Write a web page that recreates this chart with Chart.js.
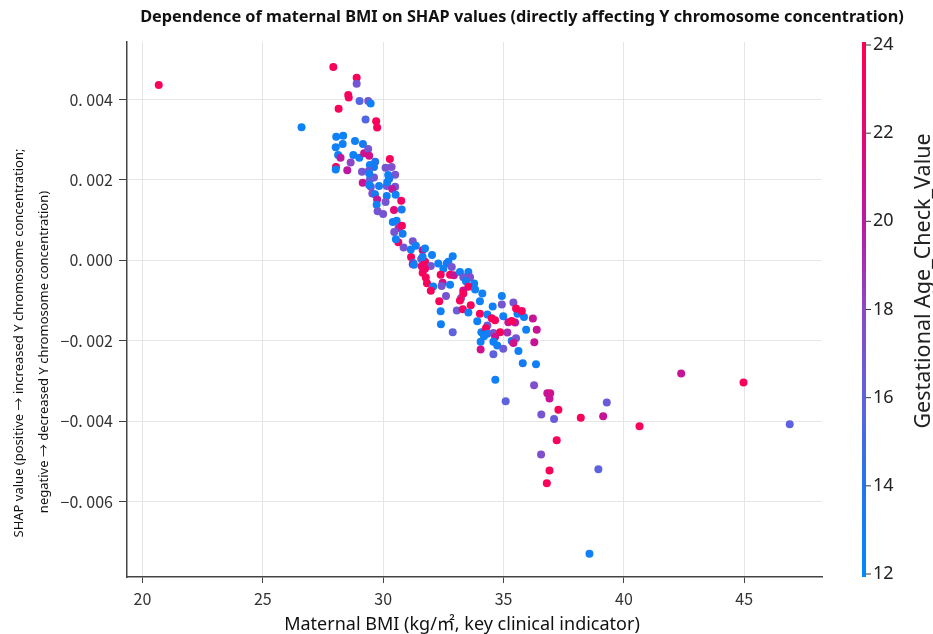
<!DOCTYPE html>
<html>
<head>
<meta charset="utf-8">
<script src="https://cdn.jsdelivr.net/npm/chart.js@4.4.0/dist/chart.umd.min.js"></script>
<style>
html, body { margin: 0; padding: 0; background: #fff; }
#wrap { width: 933px; height: 634px; position: relative; }
</style>
</head>
<body>
<div id="wrap"><canvas id="myChart"></canvas></div>
<script>
// maternal BMI, SHAP value, gestational age (colour) for each sample
const bmi = [
  20.68, 26.61, 27.93, 28.90, 28.90, 28.55, 28.57, 28.15, 29.02, 29.38,
  29.48, 29.27, 29.71, 29.75, 28.05, 28.34, 28.03, 28.32, 28.83, 29.16,
  28.13, 28.23, 28.76, 29.01, 29.21, 29.38, 29.42, 29.67, 29.45, 29.62,
  28.04, 28.03, 28.51, 28.65, 29.12, 29.40, 29.62, 29.45, 29.15, 29.83,
  29.49, 29.55, 29.66, 29.75, 29.73, 29.77, 30.00, 30.28, 30.10, 30.35,
  30.50, 30.25, 30.15, 30.50, 30.38, 30.52, 30.15, 30.75, 30.10, 30.77,
  30.45, 30.40, 30.56, 30.64, 30.78, 30.46, 30.63, 30.81, 30.53, 30.85,
  31.23, 31.36, 31.16, 31.25, 31.64, 31.74, 31.58, 31.74, 32.03, 31.98,
  31.64, 31.77, 31.82, 32.08, 31.98, 32.29, 29.42, 29.42, 30.17, 30.21,
  31.15, 31.64, 32.71, 32.89, 31.60, 31.23, 31.74, 32.64, 31.28, 32.50,
  32.85, 32.39, 32.78, 32.94, 33.19, 33.54, 33.33, 33.61, 32.47, 32.78,
  33.44, 33.78, 32.43, 33.54, 33.33, 33.82, 34.12, 32.61, 33.24, 32.33,
  33.19, 34.02, 34.93, 35.41, 33.64, 34.55, 34.93, 32.39, 33.06, 33.31,
  34.02, 33.54, 34.33, 34.51, 34.65, 34.99, 35.58, 35.85, 35.20, 35.48,
  33.91, 34.33, 32.40, 32.89, 34.08, 35.16, 33.33, 35.52, 35.76, 36.22,
  35.34, 34.27, 35.94, 36.38, 34.33, 34.58, 34.86, 34.19, 34.65, 35.34,
  35.52, 35.41, 34.05, 34.58, 34.74, 34.99, 34.05, 35.62, 36.28, 34.58,
  35.80, 36.35, 34.66, 36.27, 36.82, 36.94, 36.91, 35.09, 37.28, 36.57,
  37.10, 38.21, 39.14, 39.29, 37.21, 36.56, 38.94, 36.91, 36.80, 42.38,
  44.97, 40.65, 46.89, 38.57
];
const shap = [
  0.00436, 0.00331, 0.00481, 0.00454, 0.00439, 0.00411, 0.00405, 0.00377, 0.00396, 0.00396,
  0.00390, 0.00350, 0.00346, 0.00330, 0.00307, 0.00310, 0.00281, 0.00289, 0.00297, 0.00289,
  0.00262, 0.00255, 0.00262, 0.00255, 0.00266, 0.00277, 0.00260, 0.00245, 0.00237, 0.00232,
  0.00232, 0.00226, 0.00224, 0.00243, 0.00220, 0.00222, 0.00206, 0.00201, 0.00193, 0.00185,
  0.00183, 0.00166, 0.00164, 0.00151, 0.00138, 0.00122, 0.00115, 0.00252, 0.00230, 0.00232,
  0.00213, 0.00203, 0.00185, 0.00183, 0.00177, 0.00163, 0.00160, 0.00148, 0.00145, 0.00126,
  0.00125, 0.00095, 0.00098, 0.00080, 0.00086, 0.00070, 0.00045, 0.00066, 0.00052, 0.00032,
  0.00047, 0.00036, 0.00008, -0.00007, 0.00025, 0.00029, 0.00003, -0.00004, 0.00013, -0.00014,
  -0.00031, -0.00043, -0.00057, -0.00065, -0.00076, -0.00008, 0.00216, 0.00187, 0.00195, 0.00212,
  0.00027, 0.00008, -0.00004, 0.00010, -0.00015, -0.00010, -0.00021, -0.00008, -0.00011, -0.00021,
  -0.00017, -0.00036, -0.00036, -0.00037, -0.00029, -0.00029, -0.00042, -0.00042, -0.00056, -0.00061,
  -0.00052, -0.00058, -0.00064, -0.00066, -0.00075, -0.00073, -0.00083, -0.00089, -0.00094, -0.00102,
  -0.00100, -0.00102, -0.00089, -0.00105, -0.00112, -0.00115, -0.00110, -0.00127, -0.00125, -0.00122,
  -0.00133, -0.00130, -0.00135, -0.00144, -0.00149, -0.00139, -0.00133, -0.00141, -0.00154, -0.00155,
  -0.00152, -0.00162, -0.00159, -0.00179, -0.00179, -0.00180, -0.00083, -0.00120, -0.00126, -0.00145,
  -0.00151, -0.00169, -0.00173, -0.00173, -0.00183, -0.00181, -0.00179, -0.00189, -0.00191, -0.00201,
  -0.00194, -0.00206, -0.00203, -0.00203, -0.00212, -0.00220, -0.00222, -0.00226, -0.00204, -0.00234,
  -0.00256, -0.00259, -0.00297, -0.00311, -0.00331, -0.00331, -0.00344, -0.00351, -0.00372, -0.00384,
  -0.00395, -0.00392, -0.00388, -0.00354, -0.00448, -0.00483, -0.00520, -0.00523, -0.00555, -0.00282,
  -0.00304, -0.00413, -0.00408, -0.00730
];
const gestAge = [
  23.5, 12.8, 23.5, 23.5, 17, 23.5, 23, 23.5, 15.5, 17,
  13, 15.5, 23.5, 23.5, 13, 13, 13, 13, 13, 13.5,
  13, 20, 13, 13, 21, 17, 21, 14, 13, 13.5,
  23.5, 13, 20, 18, 17, 17, 17, 16, 20.5, 13,
  17, 17.5, 13.5, 20.5, 13, 17, 17, 23.5, 17, 17.5,
  17, 14, 17, 17, 20, 13, 13, 23, 17, 13.5,
  22, 13, 13, 19, 23.5, 17, 23.5, 13.5, 13, 17,
  17, 13, 23.5, 13, 20.5, 13, 17, 23.5, 13, 17,
  23.5, 23.5, 23.5, 13, 23.5, 13, 13, 13, 13, 13,
  13, 13, 13, 13, 23, 20.5, 23, 13.5, 13, 13,
  17, 23.5, 23.5, 20.5, 13, 13, 16.5, 17.5, 21, 13,
  13, 13, 17, 23.5, 21, 13, 13, 17, 17.5, 23.5,
  23.5, 13, 13, 17, 23.5, 13, 17, 13, 16.5, 23.5,
  23.5, 13, 13, 23.5, 23.5, 13, 13, 13, 20.5, 20.5,
  13, 16.5, 13, 16, 13, 19, 23.5, 23.5, 23.5, 20.5,
  23.5, 23.5, 13, 20.5, 13, 17, 23.5, 13, 21, 13,
  17, 21, 13, 13, 13, 16.5, 21, 13, 20.5, 16,
  13.5, 13, 13, 17.5, 20.5, 21, 20.5, 16, 23.5, 17,
  16.5, 23.5, 20.5, 16.5, 23.5, 17.5, 16, 23.5, 23.5, 20.5,
  23.5, 23.5, 16, 13
];

const xTicks = [20, 25, 30, 35, 40, 45];
const yTicks = [0.004, 0.002, 0, -0.002, -0.004, -0.006];
const yTickLabels = ['0. 004', '0. 002', '0. 000', '\u22120. 002', '\u22120. 004', '\u22120. 006'];
const cbTicks = [12, 14, 16, 18, 20, 22, 24];

const titleText = 'Dependence of maternal BMI on SHAP values (directly affecting Y chromosome concentration)';
const xTitle = 'Maternal BMI (kg/\u33A1, key clinical indicator)';
const yTitle = ['SHAP value (positive \u2192 increased Y chromosome concentration;',
                'negative \u2192 decreased Y chromosome concentration)'];
const cbTitle = 'Gestational Age_Check_Value';

const FONT = "'Noto Sans CJK SC', 'Noto Sans', sans-serif";
const FONT2 = "'Noto Sans', 'Noto Sans CJK SC', sans-serif";

// blue -> purple -> red, like the SHAP colormap
const cmap = [
  [0.000, [0, 138, 251]],
  [0.167, [30, 118, 240]],
  [0.333, [95, 98, 222]],
  [0.500, [140, 72, 200]],
  [0.667, [190, 24, 160]],
  [0.833, [228, 8, 118]],
  [1.000, [255, 0, 82]]
];
function colorAt(t) {
  t = Math.max(0, Math.min(1, t));
  for (let i = 1; i < cmap.length; i++) {
    if (t <= cmap[i][0]) {
      const a = cmap[i - 1], b = cmap[i];
      const f = (t - a[0]) / (b[0] - a[0]);
      const c = a[1].map((v, k) => Math.round(v + (b[1][k] - v) * f));
      return `rgb(${c[0]},${c[1]},${c[2]})`;
    }
  }
  return 'rgb(255,0,82)';
}
const ageMin = cbTicks[0], ageMax = cbTicks[cbTicks.length - 1];
const pointColors = gestAge.map(a => colorAt((a - ageMin) / (ageMax - ageMin)));

const points = bmi.map((x, i) => ({ x: x, y: shap[i] }));

const extras = {
  id: 'extras',
  afterDraw(chart) {
    const ctx = chart.ctx;
    const area = chart.chartArea;
    ctx.save();
    ctx.textBaseline = 'middle';

    // title
    ctx.fillStyle = '#111';
    ctx.font = `bold 16.3px ${FONT2}`;
    ctx.textAlign = 'center';
    ctx.fillText(titleText, 522, 17);

    // x axis title
    ctx.font = `18px ${FONT2}`;
    ctx.fillText(xTitle, 462, 625);

    // y axis title, two lines
    ctx.save();
    ctx.font = `13px ${FONT2}`;
    ctx.translate(19, 343);
    ctx.rotate(-Math.PI / 2);
    ctx.fillText(yTitle[0], 0, 0);
    ctx.fillText(yTitle[1], -9, 25);
    ctx.restore();

    // colorbar
    const x0 = 862, w = 4;
    const g = ctx.createLinearGradient(0, area.bottom, 0, area.top);
    cmap.forEach(s => g.addColorStop(s[0], colorAt(s[0])));
    ctx.fillStyle = g;
    ctx.fillRect(x0, area.top, w, area.bottom - area.top);
    ctx.strokeStyle = '#333';
    ctx.lineWidth = 1;
    ctx.fillStyle = '#222';
    ctx.font = `18px ${FONT2}`;
    ctx.textAlign = 'left';
    cbTicks.forEach(v => {
      const y = area.bottom - (v - ageMin) / (ageMax - ageMin) * (area.bottom - area.top - 6) - 3;
      ctx.beginPath();
      ctx.moveTo(x0 + w, y);
      ctx.lineTo(x0 + w + 5, y);
      ctx.stroke();
      ctx.fillText(String(v), x0 + w + 7, y);
    });
    ctx.translate(924, 281);
    ctx.rotate(-Math.PI / 2);
    ctx.textAlign = 'center';
    ctx.font = `21.5px ${FONT2}`;
    ctx.fillText(cbTitle, 0, 0);
    ctx.restore();
  }
};

const ctx = document.getElementById('myChart').getContext('2d');
const myChart = new Chart(ctx, {
  type: 'scatter',
  data: {
    datasets: [{
      data: points,
      pointRadius: 4,
      pointBorderWidth: 0,
      pointBackgroundColor: pointColors,
      pointBorderColor: pointColors
    }]
  },
  options: {
    responsive: true,
    maintainAspectRatio: false,
    animation: false,
    layout: { padding: { top: 42, right: 111, bottom: 0, left: 0 } },
    plugins: { legend: { display: false }, tooltip: { enabled: false } },
    scales: {
      x: {
        type: 'linear',
        min: 19.36,
        max: 48.23,
        afterBuildTicks: s => { s.ticks = xTicks.map(v => ({ value: v })); },
        afterFit: s => { s.height = 57; },
        grid: { color: '#e6e6e6', lineWidth: 1, tickLength: 6, tickColor: '#444', drawTicks: true },
        border: { color: '#444', width: 1.5 },
        ticks: { color: '#333', font: { size: 16, family: FONT }, padding: 6, maxRotation: 0,
                 callback: v => String(v) },
        title: { display: false }
      },
      y: {
        type: 'linear',
        min: -0.00788,
        max: 0.00543,
        afterBuildTicks: s => { s.ticks = yTicks.map(v => ({ value: v })); },
        afterFit: s => { s.width = 127; },
        grid: { color: '#e6e6e6', lineWidth: 1, tickLength: 8, tickColor: '#444', drawTicks: true },
        border: { color: '#444', width: 1.5 },
        ticks: { color: '#333', font: { size: 16, family: FONT }, padding: 6,
                 callback: v => yTickLabels[yTicks.findIndex(t => Math.abs(t - v) < 1e-9)] },
        title: { display: false }
      }
    }
  },
  plugins: [extras]
});
</script>
</body>
</html>
